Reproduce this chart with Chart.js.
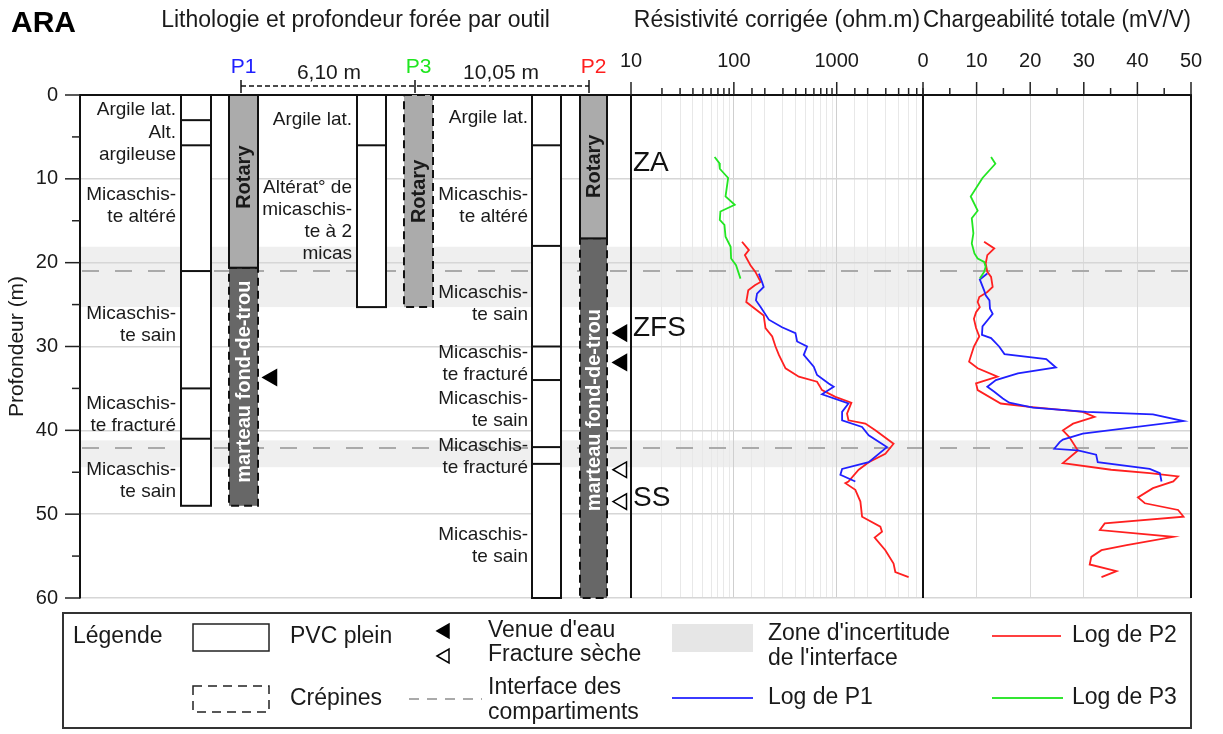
<!DOCTYPE html>
<html>
<head>
<meta charset="utf-8">
<script src="https://cdn.jsdelivr.net/npm/chart.js@4/dist/chart.umd.min.js"></script>
<style>
  body { margin: 0; background: #fff; }
  #wrap { width: 1223px; height: 734px; }
</style>
</head>
<body>
<div id="wrap"><canvas id="myChart" width="1223" height="734"></canvas></div>
<script>
// ---- data (depth in m) ----
// corrected resistivity (ohm.m)
var p1ResDepth = [21.3, 22.3, 22.9, 23.7, 24.5, 25.3, 26.8, 27.7, 28.4, 29.4, 30.0, 31.0, 32.4, 33.4, 34.4, 34.8, 35.7, 36.8, 37.8, 38.8, 39.6, 40.6, 42.0, 43.8, 44.6, 45.3, 46.1];
var p1Res = [175, 188, 195, 168, 164, 182, 219, 294, 397, 412, 515, 478, 598, 644, 835, 935, 720, 1300, 1128, 1128, 1764, 2046, 3076, 2046, 1128, 1086, 1517];
var p2ResDepth = [17.5, 18.5, 19.1, 20.3, 21.1, 22.3, 22.7, 23.3, 24.7, 26.3, 27.8, 28.8, 30.0, 31.0, 32.6, 33.6, 34.2, 35.2, 36.0, 36.7, 38.0, 38.8, 39.2, 40.0, 41.6, 42.8, 43.8, 44.7, 46.1, 46.3, 47.1, 48.5, 50.3, 51.5, 52.1, 52.8, 54.3, 55.9, 56.9, 57.5];
var p2Res = [120, 140, 128, 145, 162, 182, 160, 138, 132, 195, 203, 236, 254, 274, 318, 428, 644, 720, 970, 1389, 1260, 1300, 1897, 2373, 3570, 2970, 2046, 1635, 1300, 1213, 1517, 1699, 1764, 2656, 2756, 2338, 2970, 3570, 3713, 5000];
var p3ResDepth = [7.4, 8.1, 8.8, 9.9, 12.1, 13.1, 13.9, 14.9, 15.5, 16.9, 18.1, 19.5, 20.3, 21.9];
var p3Res = [65, 72, 73, 88, 83, 102, 74, 73, 81, 83, 93, 94, 105, 116];

// total chargeability (mV/V)
var p1ChgDepth = [21.3, 22.0, 23.3, 23.9, 24.5, 25.5, 26.1, 26.9, 27.6, 28.6, 29.0, 30.0, 30.9, 31.5, 32.5, 33.2, 34.0, 34.8, 35.4, 36.2, 36.7, 37.3, 37.8, 38.1, 38.9, 40.4, 41.1, 41.4, 42.2, 42.4, 42.9, 43.8, 44.6, 45.1, 46.1];
var p1Chg = [12.0, 10.6, 11.4, 11.7, 12.4, 12.5, 13.0, 12.0, 11.1, 11.0, 12.7, 14.2, 15.2, 23.0, 24.8, 17.7, 13.6, 12.0, 13.3, 14.9, 16.1, 20.5, 30.5, 42.9, 48.6, 29.8, 26.1, 25.5, 24.5, 28.9, 32.3, 32.6, 42.3, 44.2, 44.5];
var p2ChgDepth = [17.5, 18.3, 19.1, 20.1, 21.1, 21.7, 22.9, 23.5, 24.1, 24.7, 25.3, 25.9, 26.7, 27.8, 28.8, 30.0, 31.8, 32.6, 33.6, 34.4, 35.2, 36.8, 37.2, 37.8, 38.4, 39.2, 40.0, 40.8, 42.4, 43.9, 44.7, 45.1, 45.5, 46.1, 46.9, 48.0, 48.7, 49.5, 50.3, 51.1, 51.9, 52.7, 53.7, 54.3, 55.1, 56.0, 56.8, 57.5];
var p2Chg = [11.4, 13.3, 12.0, 11.7, 12.0, 12.7, 13.0, 12.0, 10.5, 10.2, 10.6, 9.9, 9.5, 9.9, 10.5, 9.5, 8.6, 10.2, 13.9, 9.9, 10.2, 14.5, 19.9, 29.8, 32.0, 28.0, 26.1, 27.3, 28.9, 26.1, 35.1, 42.3, 47.6, 46.7, 42.9, 40.1, 41.4, 47.6, 48.6, 33.9, 33.0, 46.7, 38.0, 33.3, 31.4, 31.1, 36.1, 33.3];
var p3ChgDepth = [7.4, 8.2, 9.9, 12.1, 13.8, 14.7, 16.5, 17.7, 18.9, 19.5, 19.9, 20.5, 21.1, 21.9];
var p3Chg = [12.7, 13.5, 11.1, 8.9, 10.2, 9.1, 9.4, 9.1, 9.6, 10.2, 11.4, 11.7, 11.4, 10.6];

// depth axis and log axes ticks
var depthTicks = [0, 10, 20, 30, 40, 50, 60];
var resLabels = [10, 100, 1000];
var chgLabels = [0, 10, 20, 30, 40, 50];

// wells: casing (PVC) breaks, drilling tools, observations
var wells = ['P1', 'P3', 'P2'];
var wellDistances = ['6,10 m', '10,05 m'];
var casingBottom = [49, 25.3, 60];
var casingBreaks = [[3, 6, 21, 35, 41], [6], [6, 18, 30, 34, 42, 44]];
var toolNames = [['Rotary', 'marteau fond-de-trou'], ['Rotary'], ['Rotary', 'marteau fond-de-trou']];
var toolFrom = [[0, 20.6], [0], [0, 17.1]];
var toolTo = [[20.6, 49], [25.3], [17.1, 60]];
var toolScreened = [[false, true], [true], [false, true]];
var lithoP1 = [[1.8, ['Argile lat.']], [5.8, ['Alt.', 'argileuse']], [13.2, ['Micaschis-', 'te altéré']], [27.4, ['Micaschis-', 'te sain']], [38.2, ['Micaschis-', 'te fracturé']], [46.0, ['Micaschis-', 'te sain']]];
var lithoP3 = [[3.0, ['Argile lat.']], [15.0, ['Altérat° de', 'micaschis-', 'te à 2', 'micas']]];
var lithoP2 = [[2.7, ['Argile lat.']], [13.2, ['Micaschis-', 'te altéré']], [24.9, ['Micaschis-', 'te sain']], [32.1, ['Micaschis-', 'te fracturé']], [37.6, ['Micaschis-', 'te sain']], [43.2, ['Micaschis-', 'te fracturé']], [53.8, ['Micaschis-', 'te sain']]];
var waterWell = ['P1', 'P2', 'P2'];
var waterDepth = [33.7, 28.4, 31.9];
var dryWell = ['P2', 'P2'];
var dryDepth = [44.7, 48.5];
var interfaceDepth = [21.0, 42.1];
var bandTop = [18.1, 41.2];
var bandBottom = [25.3, 44.4];
var zoneNames = ['ZA', 'ZFS', 'SS'];
var zoneDepth = [8.1, 27.8, 48.1];

// ---- layout (lithology axis units = pixels from its left edge) ----
var FONT = '"Liberation Sans", Arial, sans-serif';
var INK = '#1a1a1a';
var wellColor = {P1: '#1f1fff', P3: '#1fe61f', P2: '#ff1f1f'};
var casingX = {P1: [101, 131], P3: [277, 306], P2: [452, 481]};
var toolX = {P1: [149, 178], P3: [324, 353], P2: [500, 527]};
var headTickX = {P1: 161, P3: 335, P2: 509};
var markerX = {P1: 192, P2: 542};
var textRight = {P1: 96, P3: 272, P2: 448};
var toolLabelDepth = [[9.8, 34.2], [11.5], [8.5, 37.6]];

Chart.defaults.font.family = FONT;
Chart.defaults.color = INK;

function pairs(ds, vs) {
  return ds.map(function (d, i) { return {x: vs[i], y: d}; });
}
function curve(label, ds, vs, color, axis) {
  return {label: label, data: pairs(ds, vs), xAxisID: axis, yAxisID: 'y', showLine: true,
    borderColor: color, borderWidth: 1.8, pointRadius: 0, fill: false, tension: 0};
}
function markers(ws, ds, filled) {
  return {label: filled ? "Venue d'eau" : 'Fracture sèche',
    data: ws.map(function (w, i) { return {x: markerX[w], y: ds[i]}; }),
    xAxisID: 'xl', yAxisID: 'y', showLine: false, pointStyle: 'triangle', rotation: -90,
    pointRadius: 9, pointBackgroundColor: filled ? '#000' : '#fff', pointBorderColor: '#000', pointBorderWidth: 1.5};
}
function isDecade(v) { var l = Math.log10(v); return Math.abs(l - Math.round(l)) < 1e-6; }

function drawTopTicks(chart, id, major) {
  var s = chart.scales[id], ctx = chart.ctx, top = chart.chartArea.top;
  ctx.strokeStyle = '#222'; ctx.lineWidth = 1.5;
  s.ticks.forEach(function (t, i) {
    var x = s.getPixelForTick(i);
    var len = major(t.value) ? 13 : 7;
    ctx.beginPath(); ctx.moveTo(x, top); ctx.lineTo(x, top - len); ctx.stroke();
  });
}
function triangle(ctx, x, y, r, filled) {
  ctx.beginPath();
  ctx.moveTo(x - r, y);
  ctx.lineTo(x + r / 2, y - r * 0.866);
  ctx.lineTo(x + r / 2, y + r * 0.866);
  ctx.closePath();
  ctx.fillStyle = filled ? '#000' : '#fff'; ctx.fill();
  ctx.strokeStyle = '#000'; ctx.lineWidth = 1.5; ctx.stroke();
}

var logPlugin = {
  id: 'logDrawing',
  beforeDraw: function (chart) {
    var ctx = chart.ctx, a = chart.chartArea, y = chart.scales.y;
    ctx.save();
    ctx.fillStyle = '#fff';
    ctx.fillRect(0, 0, chart.width, chart.height);
    ctx.fillStyle = '#efefef';
    bandTop.forEach(function (d, i) {
      var t = y.getPixelForValue(d), b = y.getPixelForValue(bandBottom[i]);
      ctx.fillRect(a.left + 1, t, a.right - a.left - 1, b - t);
    });
    ctx.restore();
  },
  beforeDatasetsDraw: function (chart) {
    var ctx = chart.ctx, a = chart.chartArea, y = chart.scales.y, xl = chart.scales.xl;
    ctx.save();
    // compartment interfaces
    ctx.strokeStyle = '#aaaaaa'; ctx.lineWidth = 2; ctx.setLineDash([17, 16]);
    interfaceDepth.forEach(function (d) {
      var py = y.getPixelForValue(d);
      ctx.beginPath(); ctx.moveTo(a.left + 2, py); ctx.lineTo(a.right, py); ctx.stroke();
    });
    ctx.setLineDash([]);
    wells.forEach(function (w, k) {
      // PVC casing column
      var c0 = xl.getPixelForValue(casingX[w][0]), c1 = xl.getPixelForValue(casingX[w][1]);
      var top = y.getPixelForValue(0), bot = y.getPixelForValue(casingBottom[k]);
      ctx.fillStyle = '#fff'; ctx.fillRect(c0, top, c1 - c0, bot - top);
      ctx.strokeStyle = '#111'; ctx.lineWidth = 2;
      ctx.strokeRect(c0, top, c1 - c0, bot - top);
      casingBreaks[k].forEach(function (d) {
        var py = y.getPixelForValue(d);
        ctx.beginPath(); ctx.moveTo(c0, py); ctx.lineTo(c1, py); ctx.stroke();
      });
      // drilling tool column (drawn deepest first)
      var t0 = xl.getPixelForValue(toolX[w][0]), t1 = xl.getPixelForValue(toolX[w][1]);
      for (var j = toolNames[k].length - 1; j >= 0; j--) {
        var yt = y.getPixelForValue(toolFrom[k][j]), yb = y.getPixelForValue(toolTo[k][j]);
        var rot = toolNames[k][j] === 'Rotary';
        ctx.fillStyle = rot ? '#ababab' : '#676767';
        ctx.fillRect(t0, yt, t1 - t0, yb - yt);
        ctx.strokeStyle = '#111'; ctx.lineWidth = 2;
        ctx.setLineDash(toolScreened[k][j] ? [8, 5] : []);
        ctx.strokeRect(t0, yt, t1 - t0, yb - yt);
        ctx.setLineDash([]);
        ctx.save();
        ctx.translate((t0 + t1) / 2 + 1, y.getPixelForValue(toolLabelDepth[k][j]));
        ctx.rotate(-Math.PI / 2);
        ctx.font = 'bold 20px ' + FONT;
        ctx.fillStyle = rot ? '#1a1a1a' : '#ffffff';
        ctx.textAlign = 'center'; ctx.textBaseline = 'middle';
        ctx.fillText(toolNames[k][j], 0, 0);
        ctx.restore();
      }
    });
    // lithology descriptions
    ctx.font = '19px ' + FONT; ctx.fillStyle = INK;
    ctx.textAlign = 'right'; ctx.textBaseline = 'middle';
    [['P1', lithoP1], ['P3', lithoP3], ['P2', lithoP2]].forEach(function (e) {
      var xr = xl.getPixelForValue(textRight[e[0]]);
      e[1].forEach(function (item) {
        var lines = item[1], cy = y.getPixelForValue(item[0]);
        lines.forEach(function (s, i) {
          ctx.fillText(s, xr, cy + (i - (lines.length - 1) / 2) * 22);
        });
      });
    });
    ctx.restore();
  },
  afterDraw: function (chart) {
    var ctx = chart.ctx, a = chart.chartArea, y = chart.scales.y, xl = chart.scales.xl;
    var xr = chart.scales.xr, xc = chart.scales.xc;
    ctx.save();
    // panel borders
    ctx.strokeStyle = '#111'; ctx.lineWidth = 2;
    [xr.left, xc.left, xc.right].forEach(function (x) {
      ctx.beginPath(); ctx.moveTo(x, a.top); ctx.lineTo(x, a.bottom); ctx.stroke();
    });
    // tick marks
    drawTopTicks(chart, 'xr', isDecade);
    drawTopTicks(chart, 'xc', function (v) { return v % 10 === 0; });
    ctx.strokeStyle = '#222'; ctx.lineWidth = 1.5;
    y.ticks.forEach(function (t, i) {
      var py = y.getPixelForTick(i), len = t.value % 10 === 0 ? 15 : 8;
      ctx.beginPath(); ctx.moveTo(a.left, py); ctx.lineTo(a.left - len, py); ctx.stroke();
    });
    // zone names
    ctx.font = '28px ' + FONT; ctx.fillStyle = '#111';
    ctx.textAlign = 'left'; ctx.textBaseline = 'middle';
    zoneNames.forEach(function (z, i) {
      ctx.fillText(z, xr.left + 2, y.getPixelForValue(zoneDepth[i]));
    });
    // well header: names and distances
    ctx.font = '21px ' + FONT; ctx.textAlign = 'center';
    wells.forEach(function (w) {
      ctx.fillStyle = wellColor[w];
      ctx.fillText(w, xl.getPixelForValue((toolX[w][0] + toolX[w][1]) / 2), 67);
    });
    var hx = wells.map(function (w) { return xl.getPixelForValue(headTickX[w]); });
    ctx.strokeStyle = '#111'; ctx.lineWidth = 1.5;
    ctx.setLineDash([5, 3]);
    ctx.beginPath(); ctx.moveTo(hx[0], 86); ctx.lineTo(hx[2], 86); ctx.stroke();
    ctx.setLineDash([]);
    hx.forEach(function (x) {
      ctx.beginPath(); ctx.moveTo(x, 80); ctx.lineTo(x, 93); ctx.stroke();
    });
    ctx.fillStyle = INK;
    ctx.fillText(wellDistances[0], (hx[0] + hx[1]) / 2 + 1, 73);
    ctx.fillText(wellDistances[1], (hx[1] + hx[2]) / 2 - 1, 73);
    // site name
    ctx.font = 'bold 30px ' + FONT; ctx.textAlign = 'left'; ctx.fillStyle = '#000';
    ctx.fillText('ARA', 11, 24);
    // legend box
    ctx.strokeStyle = '#333'; ctx.lineWidth = 2;
    ctx.strokeRect(63, 613, 1128, 115);
    ctx.font = '23px ' + FONT; ctx.fillStyle = INK; ctx.textAlign = 'left';
    ctx.fillText('Légende', 73, 637);
    ctx.strokeStyle = '#222'; ctx.lineWidth = 1.5;
    ctx.strokeRect(193, 624, 76, 27);
    ctx.fillText('PVC plein', 290, 637);
    ctx.setLineDash([9, 6]);
    ctx.strokeRect(193, 686, 76, 26);
    ctx.setLineDash([]);
    ctx.fillText('Crépines', 290, 699);
    triangle(ctx, 445, 631, 8, true);
    triangle(ctx, 445, 656, 8, false);
    ctx.fillStyle = INK;
    ctx.fillText("Venue d'eau", 488, 631);
    ctx.fillText('Fracture sèche', 488, 655);
    ctx.strokeStyle = '#aaaaaa'; ctx.lineWidth = 2; ctx.setLineDash([10, 8]);
    ctx.beginPath(); ctx.moveTo(409, 699); ctx.lineTo(482, 699); ctx.stroke();
    ctx.setLineDash([]);
    ctx.fillText('Interface des', 488, 688);
    ctx.fillText('compartiments', 488, 713);
    ctx.fillStyle = '#e6e6e6'; ctx.fillRect(672, 624, 81, 28);
    ctx.fillStyle = INK;
    ctx.fillText("Zone d'incertitude", 768, 634);
    ctx.fillText("de l'interface", 768, 659);
    [['#ff4040', 992, 1061, 636, 'Log de P2', 1072], ['#3b3bff', 672, 753, 698, 'Log de P1', 768], ['#33e633', 992, 1063, 698, 'Log de P3', 1072]].forEach(function (l) {
      ctx.strokeStyle = l[0]; ctx.lineWidth = 2;
      ctx.beginPath(); ctx.moveTo(l[1], l[3]); ctx.lineTo(l[2], l[3]); ctx.stroke();
      ctx.fillStyle = INK; ctx.fillText(l[4], l[5], l[3]);
    });
    ctx.restore();
  }
};

var ctx = document.getElementById('myChart');
var myChart = new Chart(ctx, {
  type: 'scatter',
  data: {
    datasets: [
      curve('Log de P3', p3ResDepth, p3Res, '#22e622', 'xr'),
      curve('Log de P1', p1ResDepth, p1Res, '#2020ff', 'xr'),
      curve('Log de P2', p2ResDepth, p2Res, '#ff2020', 'xr'),
      curve('Log de P3', p3ChgDepth, p3Chg, '#22e622', 'xc'),
      curve('Log de P1', p1ChgDepth, p1Chg, '#2020ff', 'xc'),
      curve('Log de P2', p2ChgDepth, p2Chg, '#ff2020', 'xc'),
      markers(waterWell, waterDepth, true),
      markers(dryWell, dryDepth, false)
    ]
  },
  options: {
    responsive: false,
    animation: false,
    layout: {padding: {top: 0, left: 0, right: 32, bottom: 136}},
    plugins: {legend: {display: false}, tooltip: {enabled: false}},
    // top axes are laid out right-to-left, so the rightmost panel comes first
    scales: {
      xc: {
        type: 'linear', position: 'top', stack: 'top', stackWeight: 268, min: 0, max: 50,
        ticks: {autoSkip: false, stepSize: 5, maxRotation: 0, padding: 9, font: {size: 20},
          callback: function (v) { return chgLabels.indexOf(v) >= 0 ? String(v) : ''; }},
        grid: {drawTicks: true, tickLength: 13, tickColor: 'rgba(0,0,0,0)', lineWidth: 1,
          color: function (c) {
            var v = c.tick ? c.tick.value : 0;
            return (v % 10 === 0 && v > 0 && v < 50) ? '#dadada' : 'rgba(0,0,0,0)';
          }},
        border: {display: true, color: '#111', width: 2},
        title: {display: true, text: 'Chargeabilité totale (mV/V)', font: {size: 23}, padding: {top: 7, bottom: 0}},
        afterFit: function (s) { s.height = 95; }
      },
      xr: {
        type: 'logarithmic', position: 'top', stack: 'top', stackWeight: 292, min: 10, max: 6900,
        ticks: {autoSkip: false, maxRotation: 0, padding: 9, font: {size: 20},
          callback: function (v) { return resLabels.indexOf(v) >= 0 ? String(v) : ''; }},
        grid: {drawTicks: true, tickLength: 13, tickColor: 'rgba(0,0,0,0)', lineWidth: 1,
          color: function (c) {
            var v = c.tick ? c.tick.value : 0;
            if (v <= 10 || v >= 6900) return 'rgba(0,0,0,0)';
            return isDecade(v) ? '#cfcfcf' : '#e8e8e8';
          }},
        border: {display: true, color: '#111', width: 2},
        title: {display: true, text: 'Résistivité corrigée (ohm.m)', font: {size: 23}, padding: {top: 7, bottom: 0}},
        afterFit: function (s) { s.height = 95; }
      },
      xl: {
        type: 'linear', position: 'top', stack: 'top', stackWeight: 551, min: 0, max: 551,
        ticks: {display: false}, grid: {display: false},
        border: {display: true, color: '#111', width: 2},
        title: {display: true, text: 'Lithologie et profondeur forée par outil', font: {size: 23}, padding: {top: 7, bottom: 0}},
        afterFit: function (s) { s.height = 95; }
      },
      y: {
        type: 'linear', position: 'left', reverse: true, min: 0, max: 60,
        ticks: {autoSkip: false, stepSize: 5, padding: 7, font: {size: 20},
          callback: function (v) { return depthTicks.indexOf(v) >= 0 ? String(v) : ''; }},
        grid: {drawTicks: true, tickLength: 15, tickColor: 'rgba(0,0,0,0)', lineWidth: 1.5,
          color: function (c) {
            var v = c.tick ? c.tick.value : 0;
            return (v % 10 === 0 && v > 0) ? '#d6d6d6' : 'rgba(0,0,0,0)';
          }},
        border: {display: true, color: '#111', width: 2},
        title: {display: true, text: 'Profondeur (m)', font: {size: 21}, padding: {top: 5, bottom: 0}},
        afterFit: function (s) { s.width = 80; }
      }
    }
  },
  plugins: [logPlugin]
});
</script>
</body>
</html>
